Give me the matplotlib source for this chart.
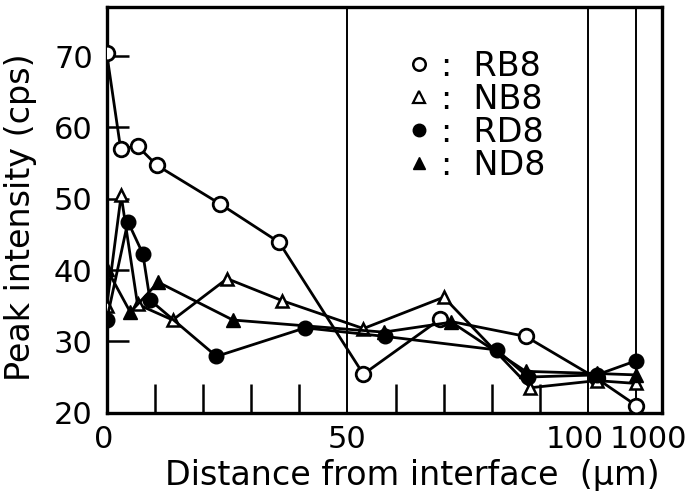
import numpy as np
import matplotlib
matplotlib.use("Agg")
import matplotlib.pyplot as plt
from matplotlib.lines import Line2D
from matplotlib.transforms import ScaledTranslation

# ---- data (distance in µm, peak intensity in cps) ----
rb8_x = [0, 2.9, 6.4, 10.4, 23.5, 35.8, 53.3, 69.2, 87.0, 150, 1000]
rb8_y = [70.4, 57.0, 57.4, 54.7, 49.3, 43.9, 25.4, 33.1, 30.7, 24.8, 21.0]

nb8_x = [0, 3.0, 6.4, 13.7, 25.0, 36.5, 53.3, 70.0, 88.0, 150, 1000]
nb8_y = [34.9, 50.5, 35.2, 33.0, 38.8, 35.7, 31.8, 36.2, 23.5, 24.5, 24.1]

rd8_x = [0, 4.4, 7.5, 9.0, 22.8, 41.2, 57.8, 81.0, 87.5, 150, 1000]
rd8_y = [33.0, 46.8, 42.3, 35.8, 27.9, 31.9, 30.7, 28.8, 25.0, 25.3, 27.3]

nd8_x = [0, 4.9, 10.7, 26.2, 57.5, 71.6, 87.0, 150, 1000]
nd8_y = [40.2, 34.1, 38.3, 33.0, 31.3, 32.7, 25.8, 25.5, 25.3]

series_names = ["RB8", "NB8", "RD8", "ND8"]
xtick_vals = [0, 50, 100, 1000]
xtick_labels = ["0", "50", "100", "1000"]
yticks = [20, 30, 40, 50, 60, 70]
break_lines = [50, 100, 1000]


def fwd(x):
    x = np.asarray(x, dtype=float)
    return np.where(x <= 100, x, 100 + 10 * np.log10(np.maximum(x, 100) / 100))


def inv(y):
    y = np.asarray(y, dtype=float)
    return np.where(y <= 100, y, 100 * 10 ** ((np.maximum(y, 100) - 100) / 10))


W, H = 693, 491
fig = plt.figure(figsize=(W / 100, H / 100), dpi=100)
ax = fig.add_axes([106.7 / W, 1 - 412.7 / H, (661.7 - 106.7) / W, (412.7 - 7) / H])
ax.set_xscale("function", functions=(fwd, inv))
ax.set_xlim(0, float(inv(115.25)))
ax.set_ylim(20, 76.9)

lw = 2.0
ax.plot(rb8_x, rb8_y, color="black", lw=lw, marker="o", ms=10.5, mfc="white", mec="black", mew=2.0, zorder=3)
ax.plot(nb8_x, nb8_y, color="black", lw=lw, marker="^", ms=9, mfc="white", mec="black", mew=1.8, zorder=3)
ax.plot(rd8_x, rd8_y, color="black", lw=lw, marker="o", ms=10.5, mfc="black", mec="black", zorder=3)
ax.plot(nd8_x, nd8_y, color="black", lw=lw, marker="^", ms=10, mfc="black", mec="black", zorder=3)

for xb in break_lines:
    ax.axvline(xb, color="black", lw=1.4, zorder=1)

for s in ax.spines.values():
    s.set_linewidth(2.4)

tfs = 22
lfs = 24
ax.set_xticks(xtick_vals)
ax.set_xticklabels(xtick_labels)
ax.set_xticks([10, 20, 30, 40, 60, 70, 80, 90], minor=True)
ax.tick_params(axis="x", which="major", length=0, pad=9, labelsize=tfs)
ax.tick_params(axis="x", which="minor", direction="in", length=21, width=1.8)
ax.set_yticks(yticks)
ax.tick_params(axis="y", which="major", direction="in", length=16, width=1.8, pad=10, labelsize=tfs)
ax.tick_params(axis="y", which="minor", length=0)

labels = ax.get_xticklabels()
offsets = {"0": -3, "100": -14, "1000": 12}
for lab in labels:
    dx = offsets.get(lab.get_text(), 0)
    if dx:
        lab.set_transform(lab.get_transform() + ScaledTranslation(dx / 100, 0, fig.dpi_scale_trans))

ax.set_xlabel("Distance from interface  (µm)", fontsize=lfs)
ax.xaxis.set_label_coords(0.55, -0.115)
ax.set_ylabel("Peak intensity (cps)", fontsize=lfs)
ax.yaxis.set_label_coords(-0.125, 0.482)

handles = [
    Line2D([], [], ls="none", marker="o", ms=9, mfc="white", mec="black", mew=1.8),
    Line2D([], [], ls="none", marker="^", ms=8, mfc="white", mec="black", mew=1.6),
    Line2D([], [], ls="none", marker="o", ms=9, mfc="black", mec="black"),
    Line2D([], [], ls="none", marker="^", ms=9, mfc="black", mec="black"),
]
leg = ax.legend(handles, [":  " + n for n in series_names], loc="upper left",
                bbox_to_anchor=(404 / W, 1 - 50 / H), bbox_transform=fig.transFigure,
                frameon=False, fontsize=lfs, handlelength=0.9, handletextpad=0.2,
                labelspacing=0.0, borderpad=0, borderaxespad=0)

fig.savefig("out.png", dpi=100)
